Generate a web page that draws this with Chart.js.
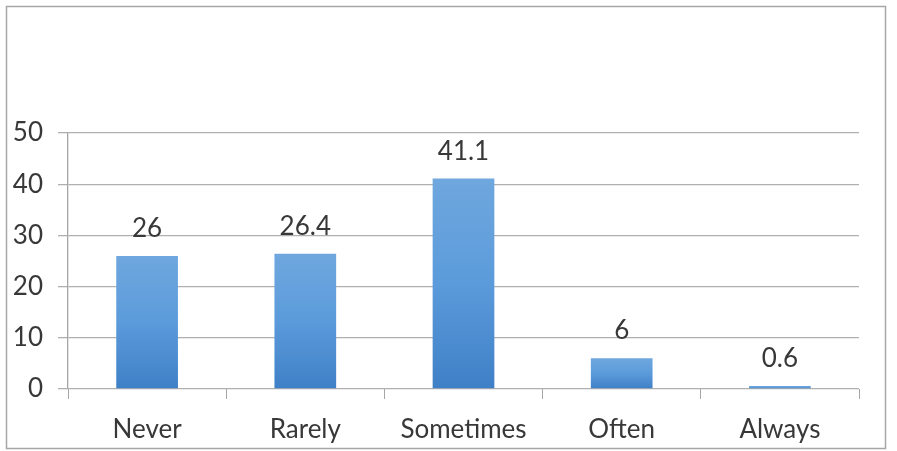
<!DOCTYPE html>
<html>
<head>
<meta charset="utf-8">
<script src="https://cdn.jsdelivr.net/npm/chart.js@4/dist/chart.umd.min.js"></script>
<style>
html,body{margin:0;padding:0;background:#fff;}
#wrap{position:relative;width:897px;height:451px;}
</style>
</head>
<body>
<div id="wrap"><canvas id="c" width="897" height="451"></canvas></div>
<script>
const categories = ["Never", "Rarely", "Sometimes", "Often", "Always"];
const values = [26, 26.4, 41.1, 6, 0.6];
const yTicks = [0, 10, 20, 30, 40, 50];

const FONT = "Lato";
const TEXT = "#383838";

const frame = {
  id: "frame",
  afterDraw(chart) {
    const c = chart.ctx;
    c.save();
    c.strokeStyle = "#a6a6a6";
    c.lineWidth = 1.5;
    c.strokeRect(6.5, 6.5, 879, 442);
    c.restore();
  }
};

const labels = {
  id: "labels",
  afterDatasetsDraw(chart) {
    const c = chart.ctx;
    const meta = chart.getDatasetMeta(0);
    c.save();
    c.font = "26px " + FONT;
    c.fillStyle = TEXT;
    c.textAlign = "center";
    c.textBaseline = "alphabetic";
    meta.data.forEach((bar, i) => {
      c.fillText(String(values[i]), bar.x, bar.y - 19);
    });
    c.restore();
  }
};

new Chart(document.getElementById("c"), {
  type: "bar",
  data: {
    labels: categories,
    datasets: [{
      data: values,
      barPercentage: 0.39,
      categoryPercentage: 1,
      backgroundColor(ctx) {
        const chart = ctx.chart;
        const ys = chart.scales.y;
        if (!chart.chartArea || !ys || ctx.parsed === undefined) return "#5b9bd5";
        const top = ys.getPixelForValue(ctx.parsed.y);
        const bot = ys.getPixelForValue(0);
        if (!isFinite(top) || !isFinite(bot) || top === bot) return "#5b9bd5";
        const g = chart.ctx.createLinearGradient(0, top, 0, bot);
        g.addColorStop(0, "#6fa7de");
        g.addColorStop(0.5, "#5b9bdb");
        g.addColorStop(1, "#3f7fc6");
        return g;
      }
    }]
  },
  plugins: [frame, labels],
  options: {
    responsive: false,
    animation: false,
    layout: { padding: { top: 133, right: 38, bottom: 0, left: 0 } },
    plugins: { legend: { display: false }, tooltip: { enabled: false } },
    scales: {
      x: {
        grid: { drawOnChartArea: false, drawTicks: true, tickLength: 10, color: "#a6a6a6", offset: true },
        border: { display: false },
        ticks: { font: { family: FONT, size: 26 }, color: TEXT, padding: 15, maxRotation: 0 },
        afterFit(s) { s.height = 62; }
      },
      y: {
        min: 0, max: 50,
        afterBuildTicks(s) { s.ticks = yTicks.map(v => ({ value: v })); },
        grid: { color: "#b0b0b0", tickLength: 10, lineWidth: 1.3 },
        border: { display: true, color: "#a6a6a6", width: 1.3 },
        ticks: { font: { family: FONT, size: 26 }, color: TEXT, padding: 15 },
        afterFit(s) { s.width = 68; }
      }
    }
  }
});
</script>
</body>
</html>
